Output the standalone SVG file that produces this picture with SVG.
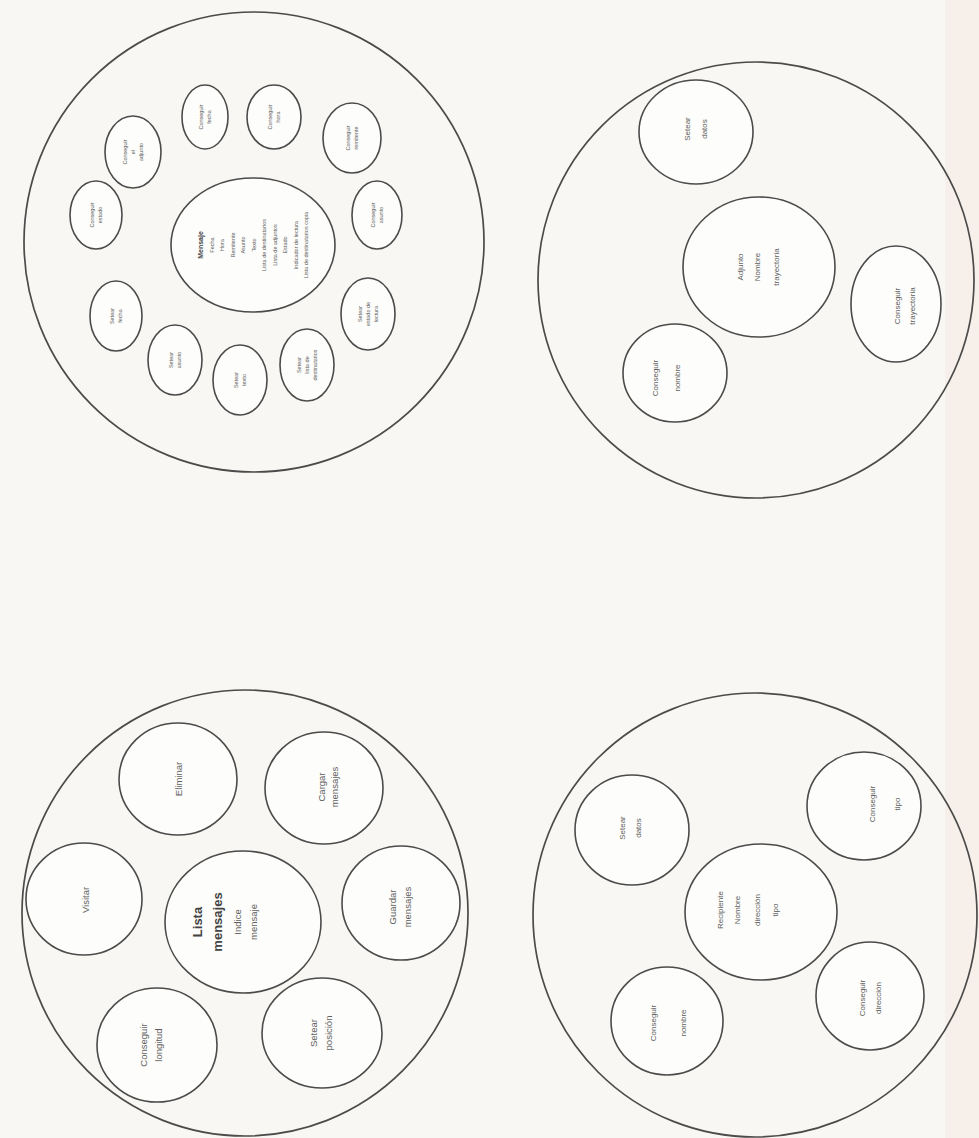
<svg xmlns="http://www.w3.org/2000/svg" width="979" height="1138" viewBox="0 0 979 1138">
<style>
.big{fill:none;stroke:#4b4b4b;stroke-width:1.7}
.node{fill:#fdfdfb;stroke:#4b4b4b;stroke-width:1.6}
.t{font-family:"Liberation Sans",Arial,sans-serif;fill:#606060;text-anchor:middle}
.s{font-size:5.5px}
.m{font-size:8px}
.l{font-size:9.5px}
.b{font-weight:bold;fill:#444}
</style>
<rect width="979" height="1138" fill="#f8f7f3"/>
<rect x="945" y="0" width="34" height="1138" fill="#f7f0ea"/>

<!-- Top-left: Mensaje -->
<g id="clase-mensaje">
<circle class="big" cx="254" cy="242" r="230"/>
<g id="tl-centro"><ellipse class="node" cx="253" cy="245" rx="82" ry="67"/>
<text class="t s" transform="translate(253,245) rotate(-90)"><tspan x="0" y="-50" class="b" font-size="7">Mensaje</tspan><tspan x="0" dy="10.5">Fecha</tspan><tspan x="0" dy="10.5">Hora</tspan><tspan x="0" dy="10.5">Remitente</tspan><tspan x="0" dy="10.5">Asunto</tspan><tspan x="0" dy="10.5">Texto</tspan><tspan x="0" dy="10.5">Lista de destinatarios</tspan><tspan x="0" dy="10.5">Lista de adjuntos</tspan><tspan x="0" dy="10.5">Estado</tspan><tspan x="0" dy="10.5">Indicador de lectura</tspan><tspan x="0" dy="10.5">Lista de destinatarios copia</tspan></text></g>
<g id="tl-1"><ellipse class="node" cx="133" cy="152" rx="28" ry="36"/><text class="t s" transform="translate(133,152) rotate(-90)"><tspan x="0" y="-6">Conseguir</tspan><tspan x="0" dy="8">el</tspan><tspan x="0" dy="8">adjunto</tspan></text></g>
<g id="tl-2"><ellipse class="node" cx="205" cy="117" rx="23" ry="32"/><text class="t s" transform="translate(205,117) rotate(-90)"><tspan x="0" y="-2">Conseguir</tspan><tspan x="0" dy="8">fecha</tspan></text></g>
<g id="tl-3"><ellipse class="node" cx="274" cy="117" rx="27" ry="32"/><text class="t s" transform="translate(274,117) rotate(-90)"><tspan x="0" y="-2">Conseguir</tspan><tspan x="0" dy="8">hora</tspan></text></g>
<g id="tl-4"><ellipse class="node" cx="352" cy="138" rx="29" ry="35"/><text class="t s" transform="translate(352,138) rotate(-90)"><tspan x="0" y="-2">Conseguir</tspan><tspan x="0" dy="8">remitente</tspan></text></g>
<g id="tl-5"><ellipse class="node" cx="377" cy="215" rx="25" ry="34"/><text class="t s" transform="translate(377,215) rotate(-90)"><tspan x="0" y="-2">Conseguir</tspan><tspan x="0" dy="8">asunto</tspan></text></g>
<g id="tl-6"><ellipse class="node" cx="368" cy="314" rx="27" ry="36"/><text class="t s" transform="translate(368,314) rotate(-90)"><tspan x="0" y="-6">Setear</tspan><tspan x="0" dy="8">estado de</tspan><tspan x="0" dy="8">lectura</tspan></text></g>
<g id="tl-7"><ellipse class="node" cx="307" cy="365" rx="27" ry="36"/><text class="t s" transform="translate(307,365) rotate(-90)"><tspan x="0" y="-6">Setear</tspan><tspan x="0" dy="8">lista de</tspan><tspan x="0" dy="8">destinatarios</tspan></text></g>
<g id="tl-8"><ellipse class="node" cx="240" cy="380" rx="27" ry="35"/><text class="t s" transform="translate(240,380) rotate(-90)"><tspan x="0" y="-2">Setear</tspan><tspan x="0" dy="8">texto</tspan></text></g>
<g id="tl-9"><ellipse class="node" cx="175" cy="360" rx="27" ry="35"/><text class="t s" transform="translate(175,360) rotate(-90)"><tspan x="0" y="-2">Setear</tspan><tspan x="0" dy="8">asunto</tspan></text></g>
<g id="tl-10"><ellipse class="node" cx="116" cy="316" rx="26" ry="35"/><text class="t s" transform="translate(116,316) rotate(-90)"><tspan x="0" y="-2">Setear</tspan><tspan x="0" dy="8">fecha</tspan></text></g>
<g id="tl-11"><ellipse class="node" cx="96" cy="215" rx="26" ry="34"/><text class="t s" transform="translate(96,215) rotate(-90)"><tspan x="0" y="-2">Conseguir</tspan><tspan x="0" dy="8">estado</tspan></text></g>
</g>

<!-- Top-right: Adjunto -->
<g id="clase-adjunto">
<circle class="big" cx="756" cy="280" r="218"/>
<g id="tr-setear"><ellipse class="node" cx="696" cy="132" rx="57" ry="52"/><text class="t m" transform="translate(696,129) rotate(-90)"><tspan x="0" y="-6">Setear</tspan><tspan x="0" dy="17">datos</tspan></text></g>
<g id="tr-centro"><ellipse class="node" cx="759" cy="267" rx="76" ry="70"/><text class="t m" transform="translate(758,267) rotate(-90)"><tspan x="0" y="-15">Adjunto</tspan><tspan x="0" dy="17">Nombre</tspan><tspan x="0" dy="19">trayectoria</tspan></text></g>
<g id="tr-nombre"><ellipse class="node" cx="675" cy="373" rx="52" ry="49"/><text class="t m" transform="translate(666,378) rotate(-90)"><tspan x="0" y="-8">Conseguir</tspan><tspan x="0" dy="22">nombre</tspan></text></g>
<g id="tr-tray"><ellipse class="node" cx="896" cy="304" rx="45" ry="58"/><text class="t m" transform="translate(904,306) rotate(-90)"><tspan x="0" y="-4">Conseguir</tspan><tspan x="0" dy="15">trayectoria</tspan></text></g>
</g>

<!-- Bottom-left: Lista mensajes -->
<g id="clase-lista">
<circle class="big" cx="245" cy="913" r="223"/>
<g id="bl-eliminar"><ellipse class="node" cx="178" cy="779" rx="59" ry="56"/><text class="t l" transform="translate(178,779) rotate(-90)"><tspan x="0" y="4">Eliminar</tspan></text></g>
<g id="bl-cargar"><ellipse class="node" cx="324" cy="788" rx="59" ry="56"/><text class="t l" transform="translate(328,787) rotate(-90)"><tspan x="0" y="-3">Cargar</tspan><tspan x="0" dy="13">mensajes</tspan></text></g>
<g id="bl-visitar"><ellipse class="node" cx="84" cy="899" rx="58" ry="56"/><text class="t l" transform="translate(85,900) rotate(-90)"><tspan x="0" y="4">Visitar</tspan></text></g>
<g id="bl-centro"><ellipse class="node" cx="243" cy="922" rx="78" ry="71"/><text class="t" transform="translate(225,922) rotate(-90)"><tspan x="0" y="-23" class="b" font-size="13">Lista</tspan><tspan x="0" dy="20" class="b" font-size="13">mensajes</tspan><tspan x="0" dy="19" font-size="9.5">Indice</tspan><tspan x="0" dy="16" font-size="9.5">mensaje</tspan></text></g>
<g id="bl-guardar"><ellipse class="node" cx="401" cy="903" rx="59" ry="57"/><text class="t l" transform="translate(400,907) rotate(-90)"><tspan x="0" y="-4">Guardar</tspan><tspan x="0" dy="15">mensajes</tspan></text></g>
<g id="bl-longitud"><ellipse class="node" cx="157" cy="1045" rx="60" ry="57"/><text class="t l" transform="translate(151,1045) rotate(-90)"><tspan x="0" y="-4">Conseguir</tspan><tspan x="0" dy="15">longitud</tspan></text></g>
<g id="bl-posicion"><ellipse class="node" cx="322" cy="1033" rx="60" ry="55"/><text class="t l" transform="translate(321,1033) rotate(-90)"><tspan x="0" y="-4">Setear</tspan><tspan x="0" dy="15">posición</tspan></text></g>
</g>

<!-- Bottom-right: Recipiente -->
<g id="clase-recipiente">
<circle class="big" cx="755" cy="915" r="222"/>
<g id="br-setear"><ellipse class="node" cx="632" cy="830" rx="57" ry="55"/><text class="t m" transform="translate(630,828) rotate(-90)"><tspan x="0" y="-5">Setear</tspan><tspan x="0" dy="16">datos</tspan></text></g>
<g id="br-tipo"><ellipse class="node" cx="864" cy="806" rx="57" ry="54"/><text class="t m" transform="translate(884,804) rotate(-90)"><tspan x="0" y="-9">Conseguir</tspan><tspan x="0" dy="25">tipo</tspan></text></g>
<g id="br-centro"><ellipse class="node" cx="761" cy="912" rx="76" ry="68"/><text class="t m" transform="translate(747,910) rotate(-90)"><tspan x="0" y="-24">Recipiente</tspan><tspan x="0" dy="17">Nombre</tspan><tspan x="0" dy="20">dirección</tspan><tspan x="0" dy="18">tipo</tspan></text></g>
<g id="br-nombre"><ellipse class="node" cx="667" cy="1021" rx="56" ry="54"/><text class="t m" transform="translate(668,1023) rotate(-90)"><tspan x="0" y="-12">Conseguir</tspan><tspan x="0" dy="30">nombre</tspan></text></g>
<g id="br-direccion"><ellipse class="node" cx="870" cy="996" rx="54" ry="54"/><text class="t m" transform="translate(870,998) rotate(-90)"><tspan x="0" y="-5">Conseguir</tspan><tspan x="0" dy="16">dirección</tspan></text></g>
</g>

<g id="connectors"/>
</svg>
